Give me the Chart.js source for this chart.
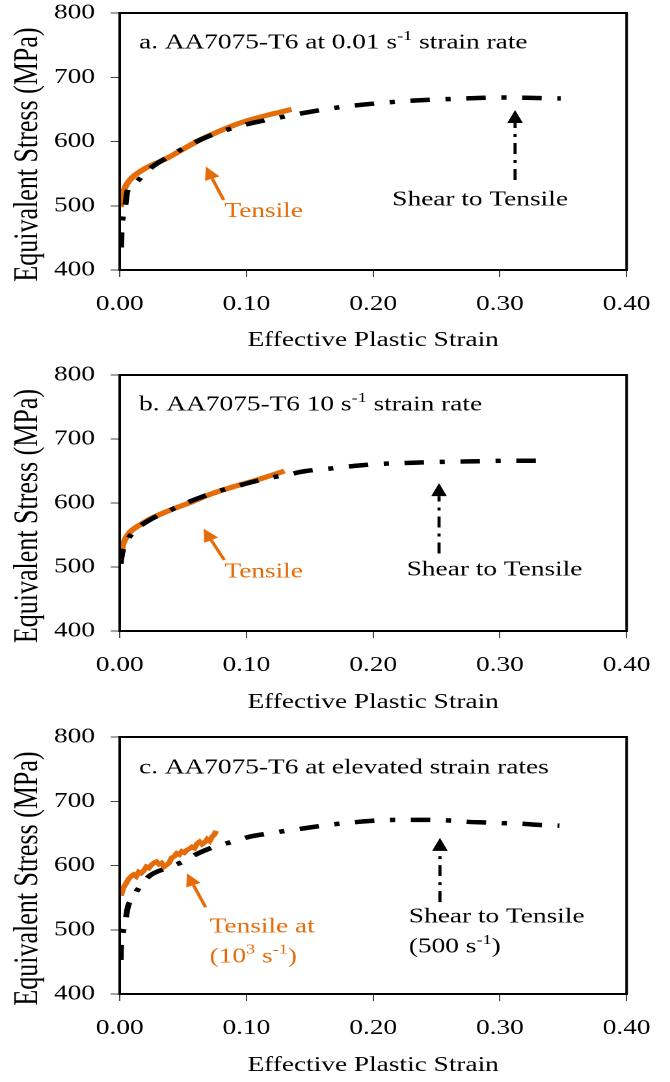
<!DOCTYPE html>
<html lang="en">
<head>
<meta charset="UTF-8">
<title>AA7075-T6 equivalent stress vs effective plastic strain</title>
<script src="https://cdn.jsdelivr.net/npm/chart.js"></script>
<style>
  html, body { margin: 0; padding: 0; background: #fff; overflow: hidden; }
  /* the source figure is stretched sideways, so each panel is drawn narrow and widened */
  .panel { width: 515px; transform: scaleX(1.301); transform-origin: 0 0; }
  canvas { display: block; }
</style>
</head>
<body>
<div class="panel" style="height:360px"><canvas id="panelA" width="515" height="360"></canvas></div>
<div class="panel" style="height:361px"><canvas id="panelB" width="515" height="361"></canvas></div>
<div class="panel" style="height:361px"><canvas id="panelC" width="515" height="361"></canvas></div>

<script>
    const strainTicks = [0, 0.1, 0.2, 0.3, 0.4];
    const stressTicks = [400, 500, 600, 700, 800];
    const xTitle = 'Effective Plastic Strain';
    const yTitle = 'Equivalent Stress (MPa)';

    // a. 0.01 1/s
    const shearA_strain = [0.0012, 0.0015, 0.0025, 0.004, 0.006, 0.0105, 0.0147, 0.026, 0.039, 0.05, 0.064, 0.078, 0.091, 0.105, 0.12, 0.133, 0.147, 0.162, 0.176, 0.19, 0.212, 0.235, 0.258, 0.28, 0.3, 0.32, 0.348];
    const shearA_stress = [435, 462, 482, 494, 522, 533, 540, 561, 577, 589, 603, 614, 622, 629, 635, 640, 645, 650, 654, 657, 661, 664, 666, 667.5, 668.5, 668, 667];
    const tensileA_strain = [0.0008, 0.002, 0.0046, 0.008, 0.011, 0.02, 0.0364, 0.05, 0.0618, 0.075, 0.087, 0.1, 0.1127, 0.125, 0.1356];
    const tensileA_stress = [498, 515, 530, 540, 546, 558, 573, 588, 601, 613, 623, 632, 639, 645, 650];

    // b. 10 1/s
    const shearB_strain = [0.0007, 0.002, 0.004, 0.008, 0.013, 0.025, 0.038, 0.05, 0.064, 0.077, 0.092, 0.105, 0.118, 0.134, 0.147, 0.162, 0.176, 0.191, 0.204, 0.218, 0.234, 0.248, 0.262, 0.276, 0.291, 0.305, 0.318, 0.332];
    const shearB_stress = [505, 522, 534, 548, 559, 575, 587, 598, 609, 618, 626, 633, 639, 645, 650, 653, 656, 659, 661, 662, 663, 664, 664.5, 665, 665.5, 666, 666, 666];
    const tensileB_strain = [0.0013, 0.002, 0.004, 0.007, 0.01, 0.017, 0.025, 0.04, 0.056, 0.072, 0.089, 0.105, 0.121, 0.13];
    const tensileB_stress = [516, 530, 542, 552, 558, 567, 576, 589, 601, 614, 625, 634, 644, 650];

    // c. elevated rates
    const shearC_strain = [0.0008, 0.001, 0.0015, 0.003, 0.004, 0.0065, 0.01, 0.014, 0.023, 0.037, 0.05, 0.062, 0.076, 0.089, 0.103, 0.118, 0.131, 0.146, 0.16, 0.173, 0.189, 0.203, 0.217, 0.231, 0.245, 0.26, 0.274, 0.289, 0.302, 0.317, 0.332, 0.347];
    const shearC_stress = [453, 470, 480, 500, 508, 536, 548, 562, 583, 596, 606, 619, 630, 637, 645, 650, 654, 658, 662, 665, 668, 670, 671, 671, 671, 670, 668, 667, 666, 665, 663, 662];
    const tensileC_strain = [0.001, 0.003, 0.005, 0.007, 0.009, 0.011, 0.013, 0.015, 0.017, 0.019, 0.021, 0.023, 0.025, 0.027, 0.029, 0.031, 0.033, 0.035, 0.037, 0.039, 0.041, 0.043, 0.045, 0.047, 0.049, 0.051, 0.053, 0.055, 0.057, 0.059, 0.061, 0.063, 0.065, 0.067, 0.069, 0.071, 0.073, 0.075, 0.076];
    const tensileC_stress = [553, 566, 572, 579, 583, 586, 583, 590, 588, 592, 598, 596, 601, 604, 606, 602, 604, 598, 601, 604, 612, 614, 619, 617, 622, 620, 624, 626, 629, 627, 634, 637, 633, 636, 641, 638, 645, 649, 654];

    const ORANGE = '#E46C0A';
    const FONT = '"Liberation Serif", "Times New Roman", serif';

    // text and arrows, in data units
    const notes = {
        panelA: {
            texts: [
                { x: 0.0153, y: 753, text: 'a. AA7075-T6 at 0.01 s^-1^ strain rate', color: '#000', align: 'left' },
                { x: 0.1136, y: 491, text: 'Tensile', color: ORANGE, align: 'center' },
                { x: 0.2844, y: 509, text: 'Shear to Tensile', color: '#000', align: 'center' }
            ],
            arrows: [
                { from: [0.082, 509], to: [0.068, 561], color: ORANGE, dash: [] },
                { from: [0.312, 540], to: [0.312, 649], color: '#000', dash: [11, 6, 3, 6] }
            ]
        },
        panelB: {
            texts: [
                { x: 0.0153, y: 753, text: 'b. AA7075-T6 10 s^-1^ strain rate', color: '#000', align: 'left' },
                { x: 0.1136, y: 492, text: 'Tensile', color: ORANGE, align: 'center' },
                { x: 0.2958, y: 495, text: 'Shear to Tensile', color: '#000', align: 'center' }
            ],
            arrows: [
                { from: [0.0825, 511], to: [0.0662, 560], color: ORANGE, dash: [] },
                { from: [0.252, 521], to: [0.252, 631], color: '#000', dash: [11, 6, 3, 6] }
            ]
        },
        panelC: {
            texts: [
                { x: 0.0153, y: 752, text: 'c. AA7075-T6 at elevated strain rates', color: '#000', align: 'left' },
                { x: 0.071, y: 504, text: 'Tensile at', color: ORANGE, align: 'left' },
                { x: 0.071, y: 458, text: '(10^3^ s^-1^)', color: ORANGE, align: 'left' },
                { x: 0.2282, y: 520, text: 'Shear to Tensile', color: '#000', align: 'left' },
                { x: 0.2282, y: 473, text: '(500 s^-1^)', color: '#000', align: 'left' }
            ],
            arrows: [
                { from: [0.0678, 535], to: [0.053, 588], color: ORANGE, dash: [] },
                { from: [0.2527, 543], to: [0.2527, 643], color: '#000', dash: [11, 6, 3, 6] }
            ]
        }
    };

    function pairs(xs, ys) {
        return xs.map((x, i) => ({ x: x, y: ys[i] }));
    }

    // text with ^superscript^ parts
    function drawRich(ctx, text, x, y, align, color) {
        const parts = text.split('^');
        const big = 21, small = 14;
        let w = 0;
        parts.forEach((p, i) => {
            ctx.font = (i % 2 ? small : big) + 'px ' + FONT;
            w += ctx.measureText(p).width;
        });
        let cx = align === 'center' ? x - w / 2 : x;
        ctx.fillStyle = color;
        ctx.textAlign = 'left';
        ctx.textBaseline = 'middle';
        parts.forEach((p, i) => {
            ctx.font = (i % 2 ? small : big) + 'px ' + FONT;
            ctx.fillText(p, cx, i % 2 ? y - 7 : y);
            cx += ctx.measureText(p).width;
        });
    }

    function drawArrow(ctx, x1, y1, x2, y2, color, dash) {
        const ang = Math.atan2(y2 - y1, x2 - x1);
        const head = 13, half = 6;
        const bx = x2 - head * Math.cos(ang), by = y2 - head * Math.sin(ang);
        ctx.save();
        ctx.strokeStyle = color;
        ctx.fillStyle = color;
        ctx.lineWidth = dash.length ? 2.4 : 2.6;
        ctx.setLineDash(dash);
        ctx.beginPath();
        ctx.moveTo(x1, y1);
        ctx.lineTo(bx, by);
        ctx.stroke();
        ctx.setLineDash([]);
        ctx.beginPath();
        ctx.moveTo(x2, y2);
        ctx.lineTo(bx + half * Math.sin(ang), by - half * Math.cos(ang));
        ctx.lineTo(bx - half * Math.sin(ang), by + half * Math.cos(ang));
        ctx.closePath();
        ctx.fill();
        ctx.restore();
    }

    const framePlugin = {
        id: 'frame',
        afterDraw(chart) {
            const { ctx, chartArea: a, scales } = chart;
            ctx.save();
            ctx.strokeStyle = '#000';
            ctx.lineWidth = 2;
            ctx.strokeRect(a.left, a.top, a.right - a.left, a.bottom - a.top);

            // y title sits a little below the middle of the axis in the source
            ctx.save();
            ctx.translate(21.5, (a.top + a.bottom) / 2 + 13);
            ctx.rotate(-Math.PI / 2);
            ctx.font = '26px ' + FONT;
            ctx.fillStyle = '#000';
            ctx.textAlign = 'center';
            ctx.textBaseline = 'middle';
            ctx.fillText(yTitle, 0, 0);
            ctx.restore();

            const n = notes[chart.canvas.id];
            n.arrows.forEach(ar => {
                drawArrow(ctx,
                    scales.x.getPixelForValue(ar.from[0]), scales.y.getPixelForValue(ar.from[1]),
                    scales.x.getPixelForValue(ar.to[0]), scales.y.getPixelForValue(ar.to[1]),
                    ar.color, ar.dash);
            });
            n.texts.forEach(t => {
                drawRich(ctx, t.text, scales.x.getPixelForValue(t.x), scales.y.getPixelForValue(t.y), t.align, t.color);
            });
            ctx.restore();
        }
    };

    function makeChart(id, shear, tensile, top, axisHeight, titlePad, jagged) {
        new Chart(document.getElementById(id), {
            type: 'line',
            data: {
                datasets: [
                    {
                        label: 'Shear to Tensile',
                        data: shear,
                        borderColor: '#000',
                        borderWidth: 4.5,
                        borderDash: [15, 12, 4, 12],
                        borderCapStyle: 'butt',
                        pointRadius: 0,
                        cubicInterpolationMode: 'monotone'
                    },
                    {
                        label: 'Tensile',
                        data: tensile,
                        borderColor: ORANGE,
                        borderWidth: jagged ? 4.5 : 5,
                        pointRadius: 0,
                        cubicInterpolationMode: jagged ? 'default' : 'monotone',
                        tension: 0
                    }
                ]
            },
            options: {
                responsive: false,
                animation: false,
                devicePixelRatio: 2,
                layout: { padding: { left: 0, right: 21, top: top, bottom: 0 } },
                plugins: { legend: { display: false }, tooltip: { enabled: false } },
                scales: {
                    x: {
                        type: 'linear',
                        min: 0,
                        max: 0.4,
                        afterBuildTicks: s => { s.ticks = strainTicks.map(v => ({ value: v })); },
                        afterFit: s => { s.height = axisHeight; },
                        border: { display: false },
                        grid: { drawOnChartArea: false, drawTicks: true, tickLength: 7, color: '#444', lineWidth: 1 },
                        ticks: {
                            callback: v => v.toFixed(2),
                            color: '#000',
                            font: { family: FONT, size: 21 },
                            padding: 15,
                            maxRotation: 0,
                            autoSkip: false
                        },
                        title: {
                            display: true,
                            text: xTitle,
                            color: '#000',
                            font: { family: FONT, size: 21 },
                            padding: { top: 0, bottom: titlePad }
                        }
                    },
                    y: {
                        type: 'linear',
                        min: 400,
                        max: 800,
                        afterBuildTicks: s => { s.ticks = stressTicks.map(v => ({ value: v })); },
                        afterFit: s => { s.width = 92; },
                        border: { display: false },
                        grid: { drawOnChartArea: false, drawTicks: true, tickLength: 7, color: '#444', lineWidth: 1 },
                        ticks: {
                            color: '#000',
                            // tiny line height so the labels do not push the plot down
                            font: { family: FONT, size: 21, lineHeight: 0.05 },
                            padding: 12
                        },
                        title: { display: false }
                    }
                }
            },
            plugins: [framePlugin]
        });
    }

    makeChart('panelA', pairs(shearA_strain, shearA_stress), pairs(tensileA_strain, tensileA_stress), 13, 90, 7, false);
    makeChart('panelB', pairs(shearB_strain, shearB_stress), pairs(tensileB_strain, tensileB_stress), 15, 90, 6, false);
    makeChart('panelC', pairs(shearC_strain, shearC_stress), pairs(tensileC_strain, tensileC_stress), 16, 88, 4, true);
</script>
</body>
</html>
